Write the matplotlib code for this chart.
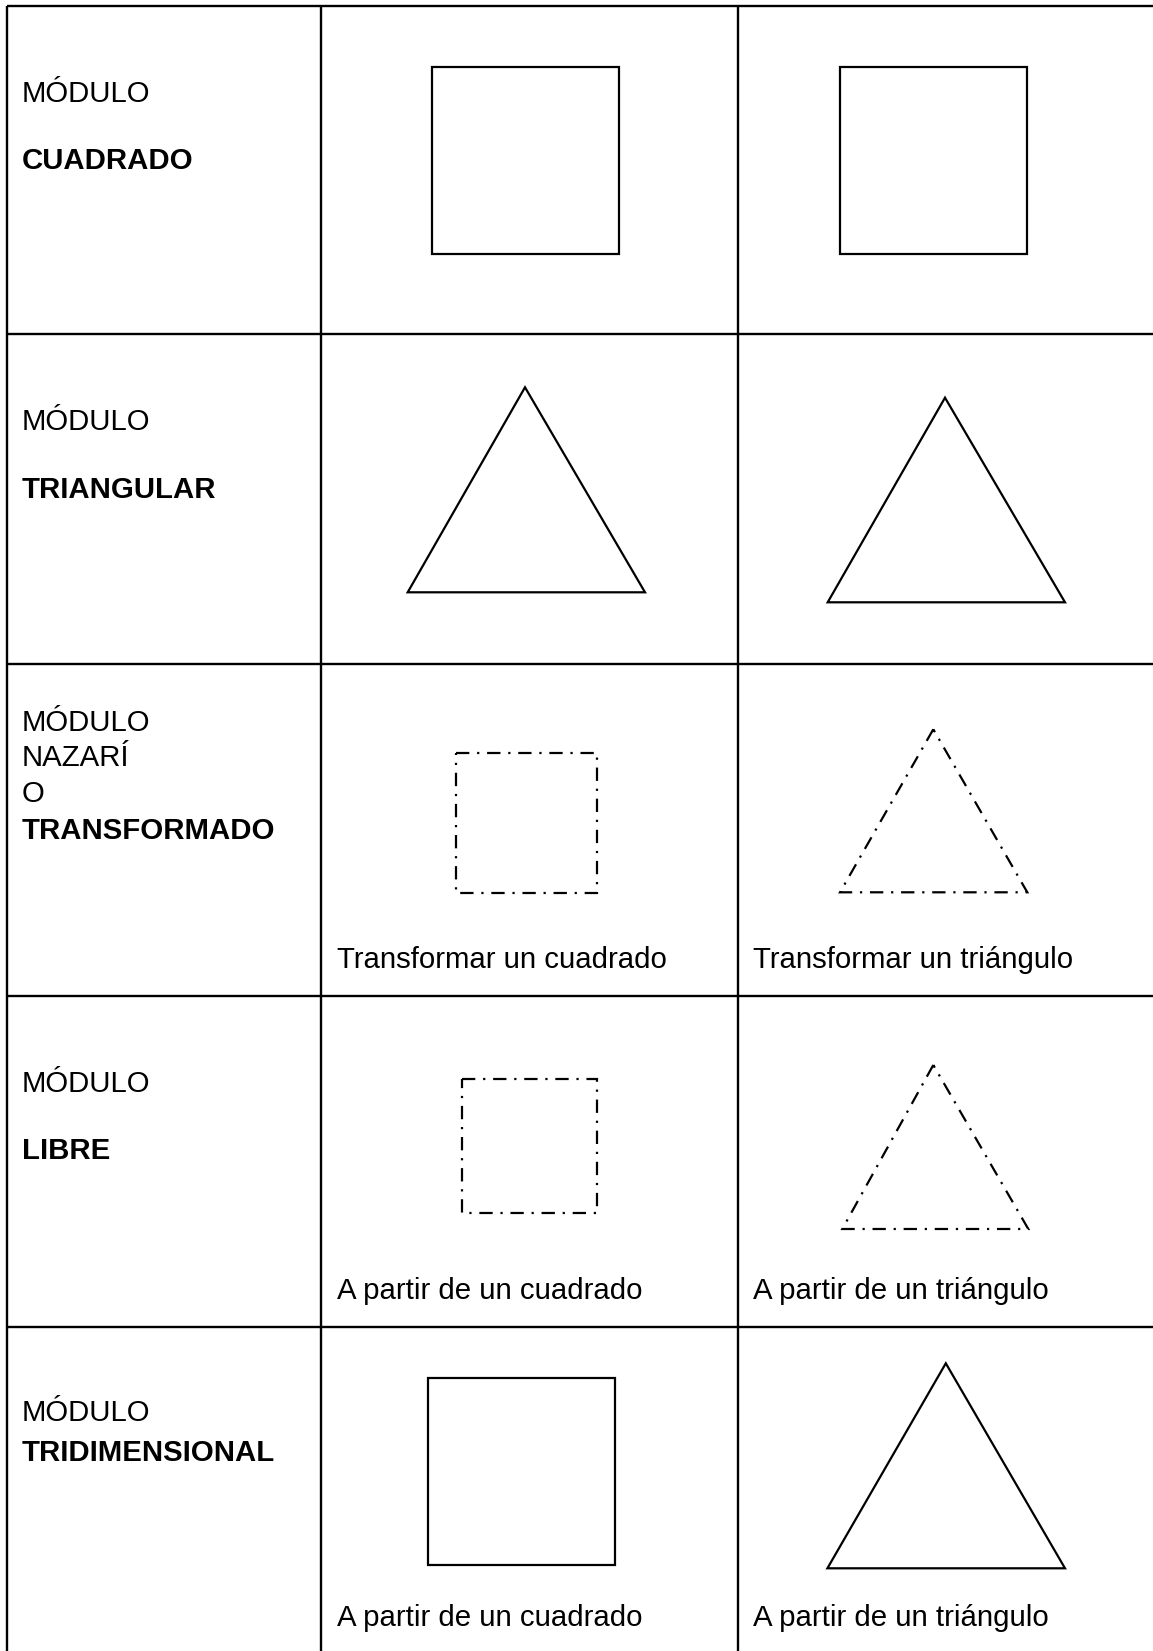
import matplotlib
matplotlib.use("Agg")
import matplotlib.pyplot as plt
from matplotlib.patches import Polygon

plt.rcParams['font.family'] = ['Liberation Sans', 'DejaVu Sans']

W, H = 1153, 1651

# table grid (pixels)
col_x = [7, 321.3, 737.5]
row_y = [6, 334.3, 664.5, 996, 1327]

# first column labels: (regular lines, bold line)
row_titles = [
    (["MÓDULO"], "CUADRADO"),
    (["MÓDULO"], "TRIANGULAR"),
    (["MÓDULO", "NAZARÍ", "O"], "TRANSFORMADO"),
    (["MÓDULO"], "LIBRE"),
    (["MÓDULO"], "TRIDIMENSIONAL"),
]
title_baselines = [
    [101.7, 169.3],
    [430.0, 497.6],
    [730.7, 765.7, 802.0, 839.0],
    [1091.7, 1159.3],
    [1421.0, 1461.0],
]

captions_square = ["", "", "Transformar un cuadrado", "A partir de un cuadrado",
                   "A partir de un cuadrado"]
captions_triangle = ["", "", "Transformar un triángulo", "A partir de un triángulo",
                     "A partir de un triángulo"]
caption_baselines = [None, None, 968, 1299, 1626]

# shapes per row: (kind, vertices, dashed)
shapes = [
    ("sq", (431.7, 66.7, 619.3, 254.0), False),
    ("sq", (839.5, 66.7, 1027.0, 254.0), False),
    ("tri", ((525.0, 387.3), (407.7, 592.3), (645.0, 592.3)), False),
    ("tri", ((945.0, 397.7), (827.7, 602.3), (1065.0, 602.3)), False),
    ("sq", (455.7, 752.7, 596.7, 893.3), True),
    ("tri", ((933.3, 729.3), (840.0, 892.3), (1027.3, 892.3)), True),
    ("sq", (461.7, 1079.3, 597.0, 1213.3), True),
    ("tri", ((933.3, 1065.0), (842.3, 1229.0), (1028.3, 1229.0)), True),
    ("sq", (427.9, 1377.7, 615.0, 1565.3), False),
    ("tri", ((945.8, 1363.3), (827.4, 1568.3), (1065.0, 1568.3)), False),
]

fig = plt.figure(figsize=(W / 100, H / 100), dpi=100)
ax = fig.add_axes([0, 0, 1, 1])
ax.set_xlim(0, W)
ax.set_ylim(H, 0)
ax.axis("off")

lw = 1.7
for x in col_x:
    ax.plot([x, x], [row_y[0], H], color="black", lw=lw, solid_capstyle="butt")
for y in row_y:
    ax.plot([col_x[0], W], [y, y], color="black", lw=lw, solid_capstyle="butt")

fs = 21.2
for (regular, bold), ys in zip(row_titles, title_baselines):
    for txt, y in zip(regular, ys[:-1]):
        ax.text(22, y, txt, fontsize=fs, va="baseline", ha="left", color="black")
    ax.text(22, ys[-1], bold, fontsize=fs, va="baseline", ha="left",
            fontweight="bold", color="black")

for cs, ct, y in zip(captions_square, captions_triangle, caption_baselines):
    if y is None:
        continue
    ax.text(337, y, cs, fontsize=fs, va="baseline", ha="left", color="black")
    ax.text(753, y, ct, fontsize=fs, va="baseline", ha="left", color="black")

dash = (0, (6, 3.5, 1, 3.5))
for kind, geom, dashed in shapes:
    if kind == "sq":
        x0, y0, x1, y1 = geom
        verts = [(x0, y0), (x1, y0), (x1, y1), (x0, y1)]
    else:
        verts = list(geom)
    ls = dash if dashed else "-"
    ax.add_patch(Polygon(verts, closed=True, fill=False, edgecolor="black",
                         lw=1.6, linestyle=ls, joinstyle="miter"))

fig.savefig("out.png", dpi=100, facecolor="white")
